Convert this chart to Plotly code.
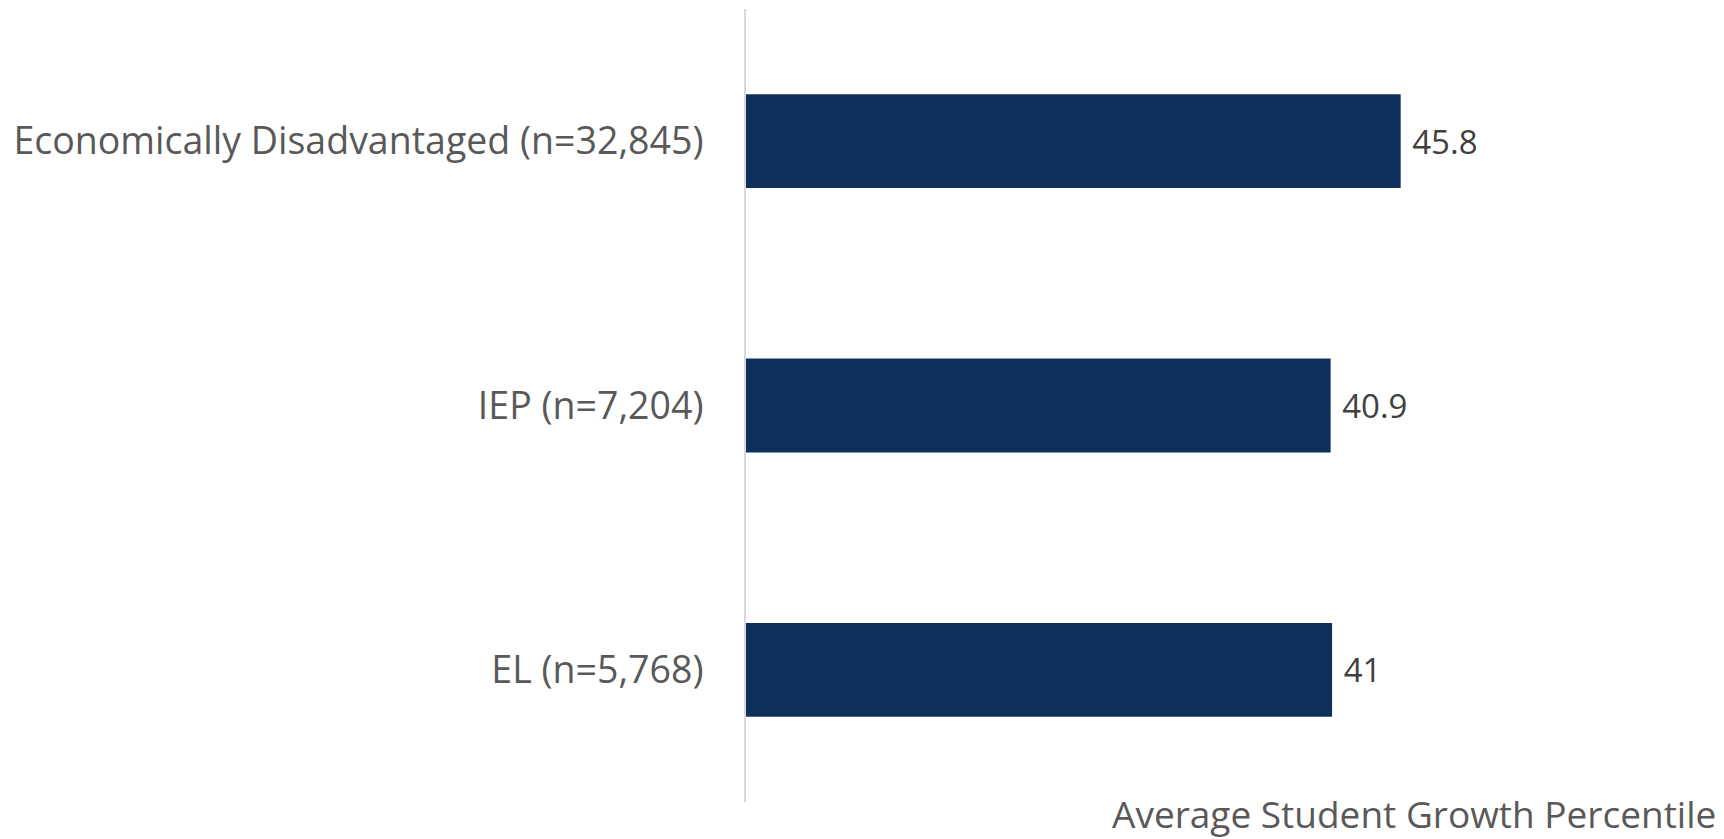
import plotly.graph_objects as go

categories = ["Economically Disadvantaged (n=32,845)", "IEP (n=7,204)", "EL (n=5,768)"]
values = [45.8, 40.9, 41]
value_labels = ["45.8", "40.9", "41"]
axis_title = "Average Student Growth Percentile"

fig = go.Figure(go.Bar(
    y=categories, x=values, orientation="h",
    marker=dict(color="#0E2F59", line=dict(width=0)),
    width=0.355,
    text=value_labels, texttemplate=" %{text}", textposition="outside",
    textfont=dict(family="Open Sans", size=33, color="#404040"),
    cliponaxis=False,
))

fig.update_layout(
    width=1724, height=839,
    margin=dict(l=746, r=6, t=9, b=37),
    paper_bgcolor="white", plot_bgcolor="white",
    showlegend=False,
    font=dict(family="Open Sans", color="#595959"),
    xaxis=dict(range=[0, 68], showgrid=False, zeroline=False, showticklabels=False,
               showline=False, ticks=""),
    yaxis=dict(autorange="reversed", showgrid=False, zeroline=False,
               showline=True, linecolor="#D9D9D9", linewidth=2,
               ticks="", ticklabelstandoff=33,
               tickfont=dict(family="Open Sans", size=37.5, color="#595959")),
    annotations=[dict(text=axis_title, xref="paper", yref="paper", x=1, y=0,
                      xanchor="right", yanchor="middle", yshift=-11, showarrow=False,
                      font=dict(family="Open Sans", size=37, color="#595959"))],
)

fig.write_html("out.html")
